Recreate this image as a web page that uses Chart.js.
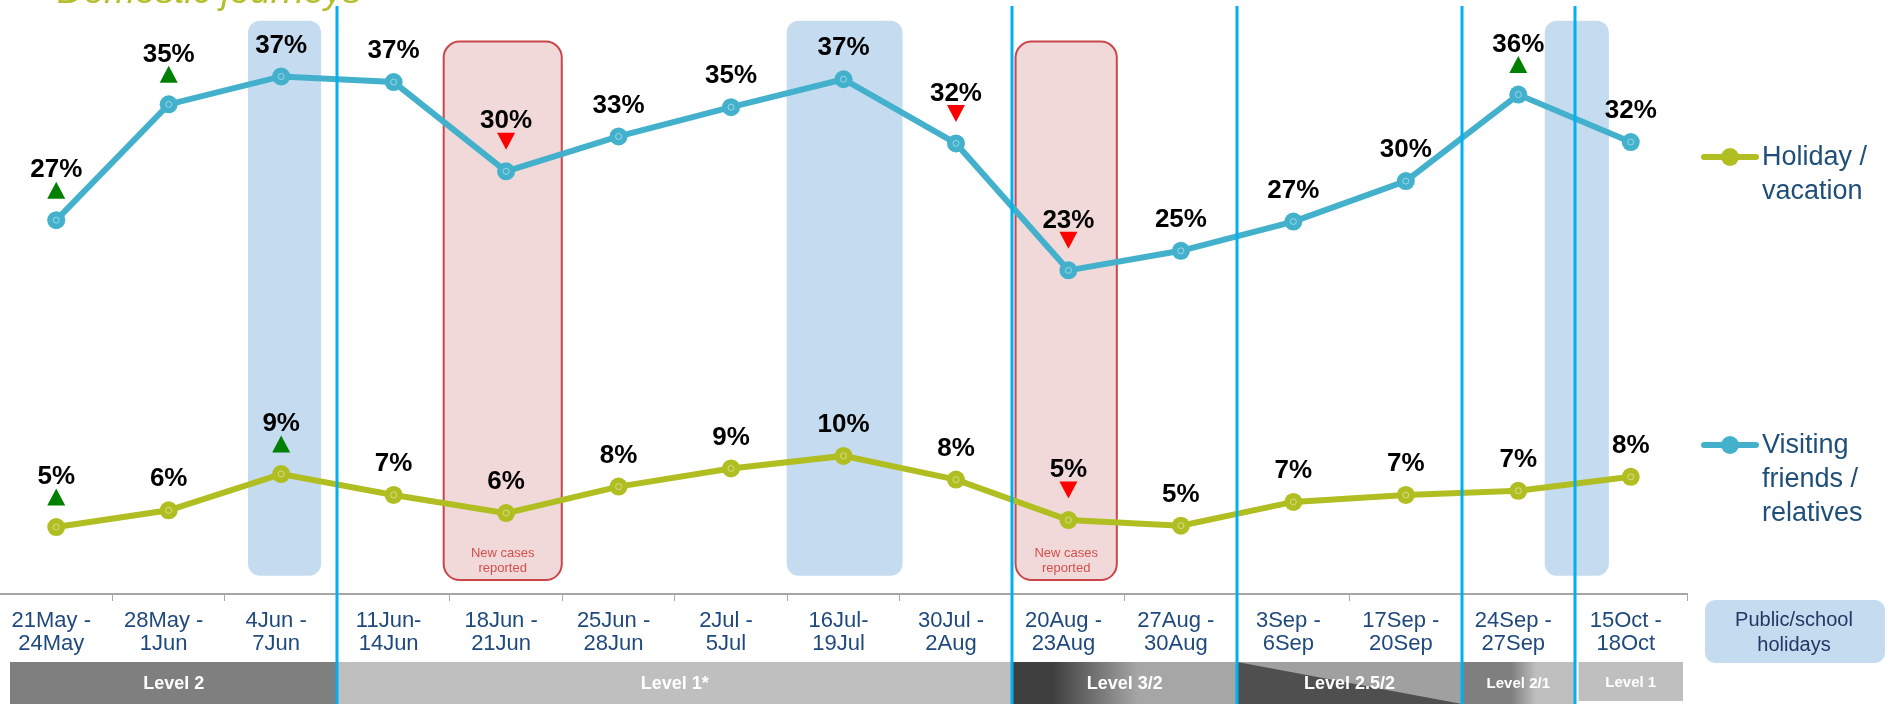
<!DOCTYPE html>
<html>
<head>
<meta charset="utf-8">
<title>Domestic journeys</title>
<script src="https://cdn.jsdelivr.net/npm/chart.js@4.4.1/dist/chart.umd.min.js"></script>
<style>
  html, body { margin: 0; padding: 0; background: #fff; }
  canvas { display: block; }
</style>
</head>
<body>
<canvas id="journeyChart" width="1887" height="704"></canvas>
<script>
// Survey weeks, two lines each
const weekLabels = [
  ['21May -', '24May'], ['28May -', '1Jun'], ['4Jun -', '7Jun'], ['11Jun-', '14Jun'],
  ['18Jun -', '21Jun'], ['25Jun -', '28Jun'], ['2Jul -', '5Jul'], ['16Jul-', '19Jul'],
  ['30Jul -', '2Aug'], ['20Aug -', '23Aug'], ['27Aug -', '30Aug'], ['3Sep -', '6Sep'],
  ['17Sep -', '20Sep'], ['24Sep -', '27Sep'], ['15Oct -', '18Oct']
];

// Share of domestic journeys by main purpose (%)
const holidayValues = [4.8, 6.0, 8.6, 7.1, 5.8, 7.7, 9.0, 9.9, 8.2, 5.3, 4.9, 6.6, 7.1, 7.4, 8.4];
const visitingValues = [26.8, 35.1, 37.1, 36.7, 30.3, 32.8, 34.9, 36.9, 32.3, 23.2, 24.6, 26.7, 29.6, 35.8, 32.4];

// Significant change on previous week: 1 up, -1 down, 0 none
const holidayChange = [1, 0, 1, 0, 0, 0, 0, 0, 0, -1, 0, 0, 0, 0, 0];
const visitingChange = [1, 1, 0, 0, -1, 0, 0, 0, -1, -1, 0, 0, 0, 1, 0];

const holidayName = ['Holiday /', 'vacation'];
const visitingName = ['Visiting', 'friends /', 'relatives'];

// Alert levels in force (first and last week index)
const levelNames = ['Level 2', 'Level 1*', 'Level 3/2', 'Level 2.5/2', 'Level 2/1', 'Level 1'];
const levelStart = [0, 3, 9, 11, 13, 14];
const levelEnd = [2, 8, 10, 12, 13, 14];

// Weeks with public/school holidays and with new cases reported
const schoolHolidayWeeks = [2.03, 7.01, 13.52];
const newCaseWeeks = [3.97, 8.98];

const OLIVE = '#B0BE22';
const TEAL = '#43B1CC';
const DIVIDER = '#00B0F0';
const LABEL_BLUE = '#1F497D';
const FONT = '"Liberation Sans", Arial, sans-serif';

// band widths in category units
const holidayBandWidth = [0.65, 1.03, 0.57];
const newCaseBandWidth = [1.05, 0.9];

const levelStyles = [
  { fill: '#7F7F7F', inset: [10, 0], size: 18 },
  { fill: '#BFBFBF', size: 18 },
  { grad: [[0, '#3F3F3F'], [0.18, '#3F3F3F'], [0.56, '#A6A6A6'], [1, '#A6A6A6']], size: 18 },
  { split: ['#4F4F4F', '#A0A0A0'], size: 18 },
  { grad: [[0, '#7F7F7F'], [0.44, '#7F7F7F'], [0.66, '#BFBFBF'], [1, '#BFBFBF']], size: 15 },
  { fill: '#BFBFBF', inset: [4, 4], top: 662, bottom: 701, size: 15 }
];

function triangle(ctx, x, cy, up, color) {
  ctx.fillStyle = color;
  ctx.beginPath();
  if (up) {
    ctx.moveTo(x, cy - 8.5); ctx.lineTo(x + 9, cy + 8.5); ctx.lineTo(x - 9, cy + 8.5);
  } else {
    ctx.moveTo(x, cy + 8.5); ctx.lineTo(x + 9, cy - 8.5); ctx.lineTo(x - 9, cy - 8.5);
  }
  ctx.closePath();
  ctx.fill();
}

const overlay = {
  id: 'overlay',
  beforeDatasetsDraw(chart) {
    const { ctx, scales: { x, y } } = chart;
    const step = x.getPixelForValue(1) - x.getPixelForValue(0);
    ctx.save();

    // public/school holidays
    ctx.fillStyle = '#C5DBF0';
    schoolHolidayWeeks.forEach((w, i) => {
      const cx = x.getPixelForValue(w), hw = holidayBandWidth[i] * step / 2;
      const top = y.getPixelForValue(41.1), bottom = y.getPixelForValue(1.3);
      ctx.beginPath();
      ctx.roundRect(cx - hw, top, hw * 2, bottom - top, 12);
      ctx.fill();
    });

    // new cases reported
    newCaseWeeks.forEach((w, i) => {
      const cx = x.getPixelForValue(w), hw = newCaseBandWidth[i] * step / 2;
      const top = y.getPixelForValue(39.6), bottom = y.getPixelForValue(1.0);
      ctx.beginPath();
      ctx.roundRect(cx - hw, top, hw * 2, bottom - top, 16);
      ctx.fillStyle = '#F2D9D9';
      ctx.fill();
      ctx.lineWidth = 2;
      ctx.strokeStyle = '#C9474A';
      ctx.stroke();
      ctx.fillStyle = '#D0504F';
      ctx.font = '13px ' + FONT;
      ctx.textAlign = 'center';
      ctx.textBaseline = 'middle';
      ctx.fillText('New cases', cx, bottom - 27);
      ctx.fillText('reported', cx, bottom - 12);
    });

    // alert level bar
    levelNames.forEach((name, i) => {
      const st = levelStyles[i];
      const inset = st.inset || [0, 0];
      const l = x.getPixelForValue(levelStart[i] - 0.5) + inset[0];
      const r = x.getPixelForValue(levelEnd[i] + 0.5) - inset[1];
      const t = st.top || 662, b = st.bottom || 704;
      if (st.grad) {
        const g = ctx.createLinearGradient(l, 0, r, 0);
        st.grad.forEach(s => g.addColorStop(s[0], s[1]));
        ctx.fillStyle = g;
        ctx.fillRect(l, t, r - l, b - t);
      } else if (st.split) {
        ctx.fillStyle = st.split[0];
        ctx.fillRect(l, t, r - l, b - t);
        ctx.fillStyle = st.split[1];
        ctx.beginPath();
        ctx.moveTo(l, t); ctx.lineTo(r, t); ctx.lineTo(r, b);
        ctx.closePath();
        ctx.fill();
      } else {
        ctx.fillStyle = st.fill;
        ctx.fillRect(l, t, r - l, b - t);
      }
      ctx.fillStyle = '#FFFFFF';
      ctx.font = 'bold ' + st.size + 'px ' + FONT;
      ctx.textAlign = 'center';
      ctx.textBaseline = 'middle';
      ctx.fillText(name, (l + r) / 2, (t + b) / 2 + 1);
    });
    ctx.restore();
  },

  afterDatasetsDraw(chart) {
    const { ctx, scales: { x } } = chart;
    ctx.save();

    // small ring inside each marker
    chart.data.datasets.forEach((ds, di) => {
      chart.getDatasetMeta(di).data.forEach(pt => {
        ctx.beginPath();
        ctx.arc(pt.x, pt.y, 3, 0, Math.PI * 2);
        ctx.strokeStyle = 'rgba(255,255,255,0.45)';
        ctx.lineWidth = 1;
        ctx.stroke();
      });
    });

    // level change dividers
    ctx.strokeStyle = DIVIDER;
    ctx.lineWidth = 3;
    levelStart.slice(1).forEach(s => {
      const px = Math.round(x.getPixelForValue(s - 0.5));
      ctx.beginPath();
      ctx.moveTo(px, 6);
      ctx.lineTo(px, 704);
      ctx.stroke();
    });

    // value labels and change arrows
    const sets = [[holidayValues, holidayChange], [visitingValues, visitingChange]];
    ctx.font = 'bold 26px ' + FONT;
    ctx.textAlign = 'center';
    ctx.textBaseline = 'middle';
    sets.forEach(([vals, chg], di) => {
      chart.getDatasetMeta(di).data.forEach((pt, i) => {
        const c = chg[i];
        ctx.fillStyle = '#000000';
        ctx.fillText(Math.round(vals[i]) + '%', pt.x, pt.y - (c ? 50 : 31));
        if (c > 0) triangle(ctx, pt.x, pt.y - 30, true, '#008000');
        if (c < 0) triangle(ctx, pt.x, pt.y - 30, false, '#FF0000');
      });
    });
    ctx.restore();
  },

  afterDraw(chart) {
    const { ctx } = chart;
    ctx.save();

    // title, mostly above the top edge
    ctx.fillStyle = '#B3BF2C';
    ctx.font = 'italic 37px ' + FONT;
    ctx.textAlign = 'left';
    ctx.textBaseline = 'alphabetic';
    ctx.fillText('Domestic journeys', 57, 3);

    // series key
    const keys = [[OLIVE, holidayName, 157], [TEAL, visitingName, 445]];
    keys.forEach(([col, lines, ky]) => {
      ctx.strokeStyle = col;
      ctx.lineWidth = 6;
      ctx.lineCap = 'round';
      ctx.beginPath();
      ctx.moveTo(1704, ky); ctx.lineTo(1756, ky);
      ctx.stroke();
      ctx.fillStyle = col;
      ctx.beginPath();
      ctx.arc(1730, ky, 9, 0, Math.PI * 2);
      ctx.fill();
      ctx.fillStyle = '#1F4E79';
      ctx.font = '27px ' + FONT;
      ctx.textAlign = 'left';
      ctx.textBaseline = 'middle';
      lines.forEach((t, j) => ctx.fillText(t, 1762, ky + 1 + j * 34));
    });

    // holidays key box
    ctx.fillStyle = '#C5DBF0';
    ctx.beginPath();
    ctx.roundRect(1705, 600, 180, 63, 10);
    ctx.fill();
    ctx.fillStyle = '#1F3864';
    ctx.font = '20px ' + FONT;
    ctx.textAlign = 'center';
    ctx.textBaseline = 'middle';
    ctx.fillText('Public/school', 1794, 620);
    ctx.fillText('holidays', 1794, 645);
    ctx.restore();
  }
};

new Chart(document.getElementById('journeyChart'), {
  type: 'line',
  data: {
    labels: weekLabels,
    datasets: [
      {
        label: holidayName.join(' '),
        data: holidayValues,
        borderColor: OLIVE,
        backgroundColor: OLIVE,
        borderWidth: 6,
        pointRadius: 9,
        pointBorderWidth: 0,
        pointBackgroundColor: OLIVE,
        tension: 0
      },
      {
        label: visitingName.join(' '),
        data: visitingValues,
        borderColor: TEAL,
        backgroundColor: TEAL,
        borderWidth: 6,
        pointRadius: 9,
        pointBorderWidth: 0,
        pointBackgroundColor: TEAL,
        tension: 0
      }
    ]
  },
  options: {
    responsive: false,
    animation: false,
    layout: { autoPadding: false, padding: { top: 36, right: 200, left: 0, bottom: 0 } },
    plugins: {
      legend: { display: false },
      tooltip: { enabled: false }
    },
    scales: {
      x: {
        offset: true,
        grid: { offset: true, drawOnChartArea: false, tickLength: 7, color: '#A6A6A6', lineWidth: 1 },
        border: { color: '#A6A6A6', width: 2 },
        ticks: {
          color: LABEL_BLUE,
          font: { family: FONT, size: 22, lineHeight: 23 / 22 },
          padding: 8,
          labelOffset: -5,
          maxRotation: 0,
          minRotation: 0,
          autoSkip: false
        },
        afterFit(scale) { scale.height = 110; }
      },
      y: { display: false, min: 0, max: 40 }
    }
  },
  plugins: [overlay]
});
</script>
</body>
</html>
